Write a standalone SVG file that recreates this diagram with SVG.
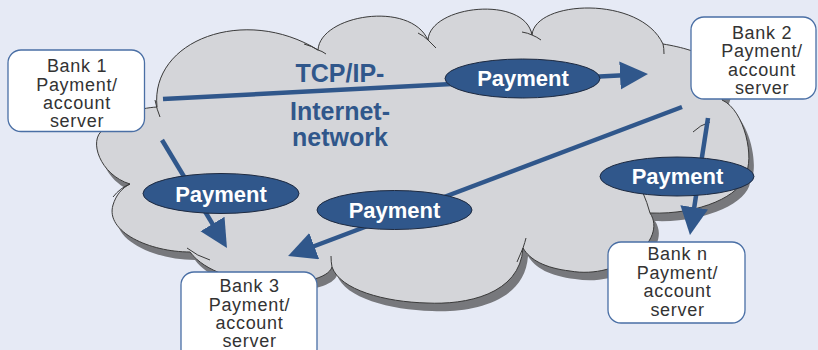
<svg xmlns="http://www.w3.org/2000/svg" width="818" height="350" viewBox="0 0 818 350">
  <defs>
    <style>
      .cloud { fill: #d4d5d9; stroke: #3a3a3a; stroke-width: 1; }
      .shadow { fill: #77787c; }
      .stub { fill: none; stroke: #3a3a3a; stroke-width: 1; }
      .box { fill: #ffffff; stroke: #4a6fa5; stroke-width: 1.3; }
      .boxtext { font-family: "Liberation Sans", Arial, sans-serif; font-size: 18px; letter-spacing: 0.7px; fill: #333333; text-anchor: middle; }
      .msg { fill: #30578b; stroke: #1e2a40; stroke-width: 1; }
      .msgtext { font-family: "Liberation Sans", Arial, sans-serif; font-size: 22px; font-weight: bold; fill: #ffffff; text-anchor: middle; }
      .net { font-family: "Liberation Sans", Arial, sans-serif; font-size: 25px; font-weight: bold; fill: #30578b; text-anchor: middle; }
      .flow { fill: none; stroke: #30578b; stroke-width: 4.5; marker-end: url(#arrow); }
    </style>
    <marker id="arrow" markerUnits="userSpaceOnUse" markerWidth="30" markerHeight="30" refX="18" refY="14" orient="auto">
      <path d="M0,0 L28,14 L0,28 z" fill="#30578b"/>
    </marker>
    <path id="cloudShape" d="M157,107
      C150,40 245,5 318,50
      C320,15 410,0 428,40
      C430,5 525,-5 532,35
      C535,0 640,-5 663,44
      C700,50 740,65 722,100
      C745,110 755,160 745,175
      C742,195 700,215 650,213
      C668,240 620,280 570,271
      C545,268 530,260 523,248
      C520,295 465,305 427,303
      C385,302 340,290 332,267
      C325,290 220,292 190,252
      C150,252 105,232 113,205
      C116,195 122,188 130,184
      C100,175 88,140 103,130
      C112,115 140,108 157,107 Z"/>
  </defs>

  <rect width="818" height="350" fill="#e6eaf5"/>

  <!-- network cloud with drop shadow -->
  <g id="network">
    <use href="#cloudShape" class="shadow" transform="translate(5,8)"/>
    <use href="#cloudShape" class="cloud"/>
    <path class="stub" d="M155,100 Q157,110 160,117"/>
    <path class="stub" d="M304,44 Q312,46 318,50 Q322,51 326,54"/>
    <path class="stub" d="M418,33 Q424,36 428,40 Q432,44 436,48"/>
    <path class="stub" d="M522,32 Q528,33 532,35 Q537,37 541,40"/>
    <path class="stub" d="M663,44 Q664,48 664,54"/>
    <path class="stub" d="M693,132 Q700,125 710,122"/>
    <path class="stub" d="M643,193 Q647,202 650,213"/>
    <path class="stub" d="M517,262 Q520,255 523,248 Q525,242 526,238"/>
    <path class="stub" d="M332,267 Q331,262 331,256"/>
    <path class="stub" d="M187,248 Q197,256 210,260"/>
    <path class="stub" d="M130,184 Q120,188 113,197"/>
    <text class="net" x="340" y="82">TCP/IP-</text>
    <text class="net" x="340" y="120">Internet-</text>
    <text class="net" x="340" y="146">network</text>
  </g>

  <!-- payment flows -->
  <g id="connectors">
    <path class="flow" d="M163,99 L638,74.5"/>
    <path class="flow" d="M162,140 L221.8,239.4"/>
    <path class="flow" d="M682,107 L297.4,252.5"/>
    <path class="flow" d="M708,118 L691.5,225.1"/>
  </g>

  <!-- payment messages -->
  <g id="payment-1">
    <ellipse class="msg" cx="522.5" cy="78.5" rx="77.5" ry="19.5"/>
    <text class="msgtext" x="523" y="86">Payment</text>
  </g>
  <g id="payment-2">
    <ellipse class="msg" cx="221" cy="193.5" rx="78" ry="20"/>
    <text class="msgtext" x="221" y="201.5">Payment</text>
  </g>
  <g id="payment-3">
    <ellipse class="msg" cx="394.5" cy="210" rx="77.5" ry="19.5"/>
    <text class="msgtext" x="394.5" y="217.5">Payment</text>
  </g>
  <g id="payment-n">
    <ellipse class="msg" cx="677" cy="176.5" rx="77" ry="19.5"/>
    <text class="msgtext" x="677.5" y="184">Payment</text>
  </g>

  <!-- bank servers -->
  <g id="bank-1">
    <rect class="box" x="8" y="50" width="136.5" height="81.5" rx="13"/>
    <text class="boxtext" x="77" y="72">Bank 1</text>
    <text class="boxtext" x="77" y="90.5">Payment/</text>
    <text class="boxtext" x="77" y="109">account</text>
    <text class="boxtext" x="77" y="127">server</text>
  </g>
  <g id="bank-2">
    <rect class="box" x="691" y="17" width="125" height="82" rx="13"/>
    <text class="boxtext" x="762" y="38.5">Bank 2</text>
    <text class="boxtext" x="762" y="57">Payment/</text>
    <text class="boxtext" x="762" y="75.5">account</text>
    <text class="boxtext" x="762" y="94">server</text>
  </g>
  <g id="bank-3">
    <rect class="box" x="181" y="272" width="136" height="90" rx="13"/>
    <text class="boxtext" x="249.5" y="291.5">Bank 3</text>
    <text class="boxtext" x="249.5" y="310.5">Payment/</text>
    <text class="boxtext" x="249.5" y="329">account</text>
    <text class="boxtext" x="249.5" y="347">server</text>
  </g>
  <g id="bank-n">
    <rect class="box" x="608" y="242" width="137" height="81" rx="13"/>
    <text class="boxtext" x="677.5" y="260">Bank n</text>
    <text class="boxtext" x="677.5" y="278.5">Payment/</text>
    <text class="boxtext" x="677.5" y="297">account</text>
    <text class="boxtext" x="677.5" y="315.5">server</text>
  </g>
</svg>
